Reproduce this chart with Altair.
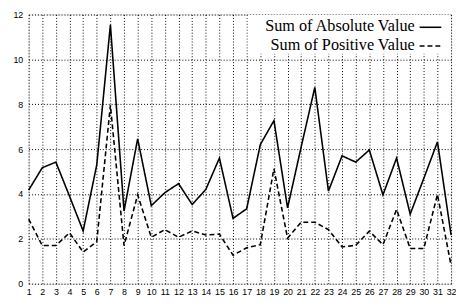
import altair as alt
import pandas as pd

x_vals = list(range(1, 33))
abs_vals = [4.17, 5.17, 5.42, 3.9, 2.35, 5.3, 11.54, 3.24, 6.46, 3.48, 4.06, 4.46, 3.53, 4.2, 5.6, 2.91,
            3.34, 6.2, 7.27, 3.38, 6.1, 8.75, 4.13, 5.7, 5.42, 5.96, 3.96, 5.6, 3.1, 4.7, 6.32, 2.17]
pos_vals = [2.88, 1.7, 1.7, 2.27, 1.41, 1.88, 7.96, 1.7, 3.96, 2.07, 2.41, 2.07, 2.35, 2.17, 2.21, 1.27,
            1.6, 1.74, 5.13, 2.03, 2.74, 2.74, 2.41, 1.64, 1.71, 2.34, 1.74, 3.31, 1.57, 1.57, 3.98, 0.81]
y_ticks = [0, 2, 4, 6, 8, 10, 12]
legend_labels = ["Sum of Absolute Value", "Sum of Positive Value"]

df = pd.DataFrame({
    "x": x_vals + x_vals,
    "v": abs_vals + pos_vals,
    "s": [legend_labels[0]] * len(x_vals) + [legend_labels[1]] * len(x_vals),
})
one = pd.DataFrame({"k": [0]})

W, H = 430, 274

xs = alt.X("x:Q", scale=alt.Scale(domain=[1, 32], nice=False, zero=False),
           axis=alt.Axis(values=x_vals, tickCount=32, title=None, grid=True, gridDash=[1, 2],
                         gridColor="black", gridOpacity=1, domain=False, ticks=False,
                         labelFont="Liberation Sans", labelFontSize=9, labelColor="black",
                         labelPadding=4, labelFlush=False, labelOverlap=False, labelBound=False))
ys = alt.Y("v:Q", scale=alt.Scale(domain=[0, 12], nice=False),
           axis=alt.Axis(values=y_ticks, title=None, grid=True, gridDash=[1, 2], gridColor="black",
                         gridOpacity=1, domain=False, ticks=False, labelFont="Liberation Sans",
                         labelFontSize=9, labelColor="black", labelPadding=6,
                         labelOverlap=False, labelBound=False))

lines = alt.Chart(df).mark_line(color="black", strokeWidth=1.6).encode(
    x=xs, y=ys,
    detail="s:N",
    strokeDash=alt.StrokeDash("s:N", scale=alt.Scale(domain=legend_labels, range=[[1, 0], [5, 3]]),
                              legend=None),
)

box = alt.Chart(one).mark_rect(fill="white").encode(
    x=alt.value(223), x2=alt.value(W - 0.5), y=alt.value(0.5), y2=alt.value(40))
txt1 = alt.Chart(one).mark_text(align="right", baseline="middle", font="Liberation Serif",
                                fontSize=16.5, color="black").encode(
    x=alt.value(393), y=alt.value(12), text=alt.value(legend_labels[0]))
txt2 = alt.Chart(one).mark_text(align="right", baseline="middle", font="Liberation Serif",
                                fontSize=16.5, color="black").encode(
    x=alt.value(393), y=alt.value(31), text=alt.value(legend_labels[1]))
r1 = alt.Chart(one).mark_rule(color="black", strokeWidth=1.6).encode(
    x=alt.value(398), x2=alt.value(420), y=alt.value(13))
r2 = alt.Chart(one).mark_rule(color="black", strokeWidth=1.6, strokeDash=[5, 3]).encode(
    x=alt.value(398), x2=alt.value(420), y=alt.value(32))

chart = alt.layer(lines, box, txt1, txt2, r1, r2).properties(
    width=W, height=H,
    autosize=alt.AutoSizeParams(type="none"),
    padding={"left": 21, "top": 4, "right": 5, "bottom": 16},
).configure_view(stroke="black", strokeWidth=1).configure(background="white")

chart.save("out.html", embed_options={"renderer": "svg", "actions": False})
